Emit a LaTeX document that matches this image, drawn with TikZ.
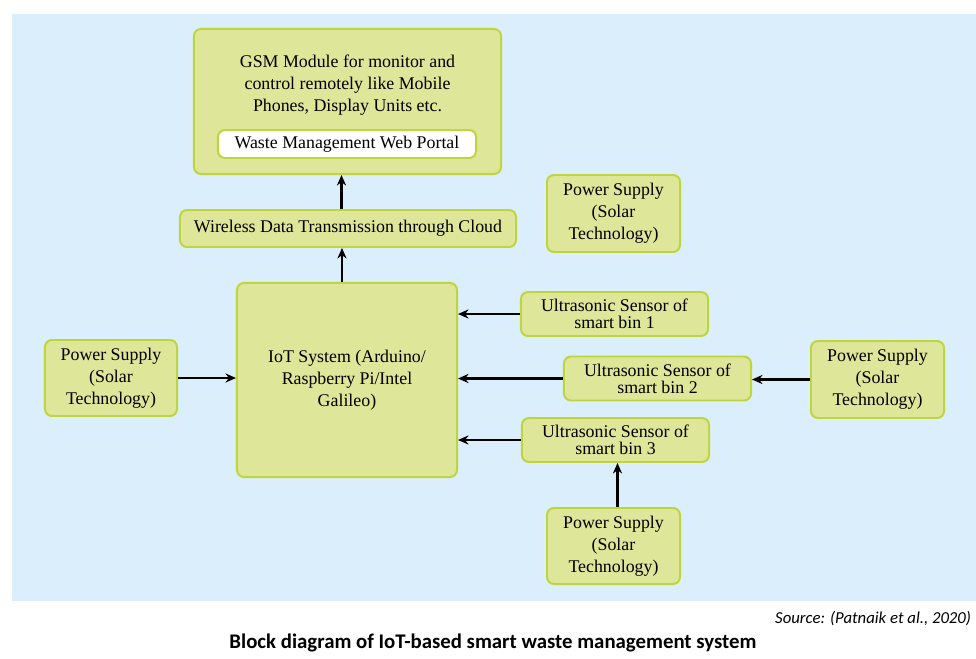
\documentclass[tikz,border=0pt]{standalone}
\usepackage{fontspec}
\usetikzlibrary{arrows.meta}
\setmainfont{Liberation Serif}
\newfontfamily\capfont{Carlito}
\definecolor{bgblue}{RGB}{218,238,251}
\definecolor{boxfill}{RGB}{221,230,153}
\definecolor{boxline}{RGB}{190,214,62}
\tikzset{
	blk/.style={draw=boxline,fill=boxfill,line width=1.4pt,rounded corners=5pt,
		align=center,inner sep=0pt,font=\fontsize{12.7}{15.6}\selectfont},
	sensor/.style={blk,minimum width=4.675cm,minimum height=1.1cm,font=\fontsize{12.7}{12.3}\selectfont},
	conn/.style={-{Stealth[length=7.5pt,width=6.5pt]},line width=1.5pt,black}
}
\begin{document}
\begin{tikzpicture}[x=0.025cm,y=-0.025cm]
	\useasboundingbox (0,0) rectangle (976,659);
	\fill[bgblue] (12,14) rectangle (976,601);
	\node[blk,minimum width=7.675cm,minimum height=3.625cm] (gsm) at (347.5,101.5) {};
	\node[align=center,font=\fontsize{12.7}{15.6}\selectfont] (gsmtext) at (347.5,85)
	{GSM Module for monitor and\\control remotely like Mobile\\Phones, Display Units etc.};
	\node[blk,fill=white,minimum width=6.45cm,minimum height=0.7cm] (portal) at (347,144) {Waste Management Web Portal};
	\node[blk,minimum width=8.4cm,minimum height=0.925cm] (cloud) at (348,228.5) {Wireless Data Transmission through Cloud};
	\node[blk,minimum width=5.5cm,minimum height=4.85cm] (iot) at (347,380) {IoT System (Arduino/\\Raspberry Pi/Intel\\Galileo)};
	\node[blk,minimum width=3.325cm,minimum height=1.925cm] (psTop) at (613.5,213.5) {Power Supply\\(Solar\\Technology)};
	\node[blk,minimum width=3.3cm,minimum height=1.9cm] (psLeft) at (111,378) {Power Supply\\(Solar\\Technology)};
	\node[blk,minimum width=3.325cm,minimum height=1.925cm] (psRight) at (877.5,379.5) {Power Supply\\(Solar\\Technology)};
	\node[blk,minimum width=3.325cm,minimum height=1.9cm] (psBottom) at (613.5,546) {Power Supply\\(Solar\\Technology)};
	\node[sensor] (sen1) at (614.5,314) {Ultrasonic Sensor of\\smart bin 1};
	\node[sensor] (sen2) at (657.5,378.5) {Ultrasonic Sensor of\\smart bin 2};
	\node[sensor] (sen3) at (615.5,440) {Ultrasonic Sensor of\\smart bin 3};
	\draw[conn] ([xshift=-0.125cm]iot.north) -- ([xshift=-0.125cm]iot.north |- cloud.south);
	\draw[conn] ([xshift=-0.15cm]cloud.north -| gsm.south) -- ([xshift=-0.15cm]gsm.south);
	\draw[conn] (psLeft.east) -- (psLeft.east -| iot.west);
	\draw[conn] (sen1.west) -- (sen1.west -| iot.east);
	\draw[conn] (sen2.west) -- (sen2.west -| iot.east);
	\draw[conn] (sen3.west) -- (sen3.west -| iot.east);
	\draw[conn] (psRight.west) -- (psRight.west -| sen2.east);
	\draw[conn] ([xshift=0.1cm]psBottom.north) -- ([xshift=0.1cm]psBottom.north |- sen3.south);
	\node[anchor=east,font=\capfont\itshape\fontsize{11.9}{14}\selectfont] (src) at (976,619) {Source: (Patnaik et al., 2020)};
	\node[font=\capfont\bfseries\fontsize{14.8}{17}\selectfont] (title) at (493,643) {Block diagram of IoT-based smart waste management system};
\end{tikzpicture}
\end{document}
